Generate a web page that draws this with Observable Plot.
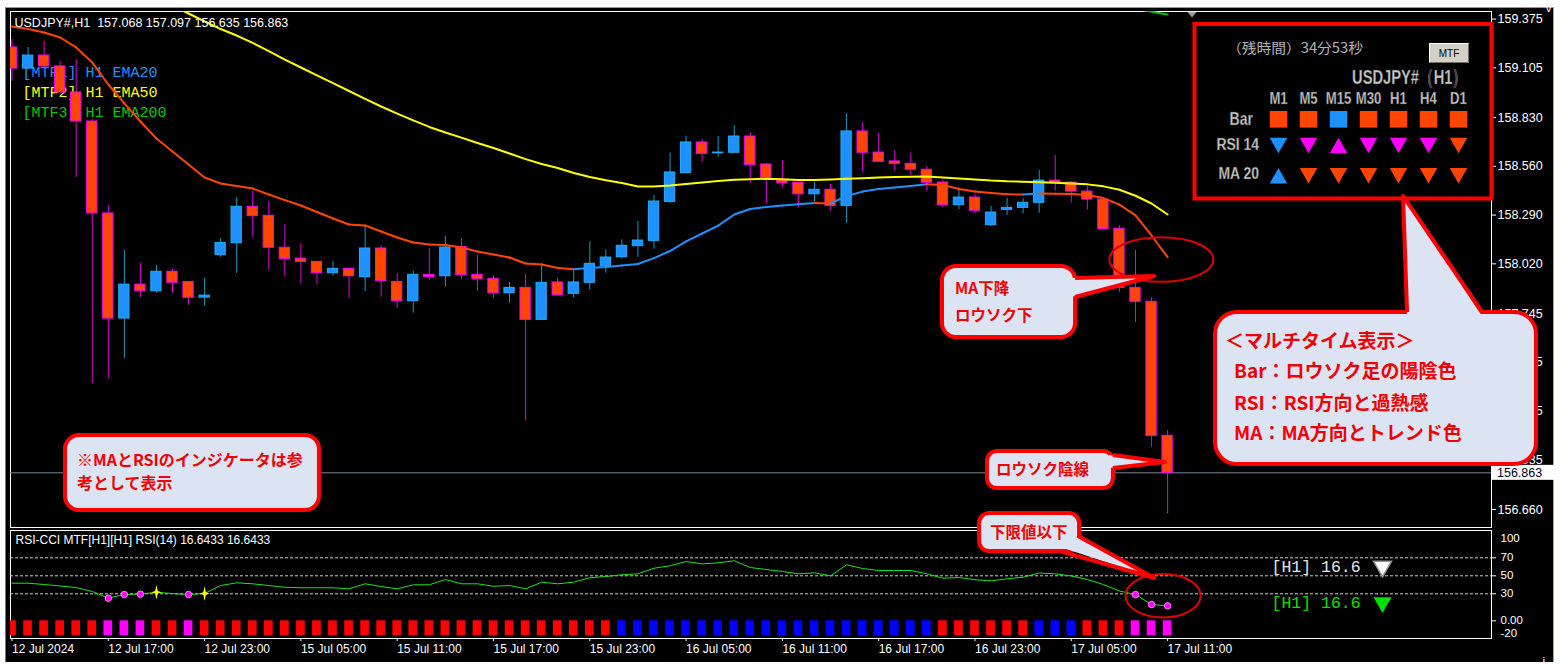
<!DOCTYPE html>
<html><head><meta charset="utf-8">
<script src="https://cdn.jsdelivr.net/npm/d3@7"></script>
<script src="https://cdn.jsdelivr.net/npm/@observablehq/plot@0.6"></script>
<style>
html,body{margin:0;padding:0;background:#fff;}
#wrap{position:relative;width:1563px;height:668px;overflow:hidden;background:#fff;}
#bg{position:absolute;left:5px;top:7px;width:1549px;height:655px;background:#000;border-left:1px solid #4f7fbf;border-right:1px solid #7fb0e0;border-top:1px solid #9a9a9a;box-sizing:border-box;}
#wrap > svg{position:absolute;left:0;top:0;overflow:visible;}
#wrap svg text{white-space:pre;}
</style></head><body><div id="wrap"><div id="bg"></div></div>
<script>
// ---------------- DATA ----------------
const symbol = "USDJPY#", timeframe = "H1";
const opens = [159.218,159.101,159.173,159.113,158.969,158.808,158.299,157.717,157.905,157.868,
157.976,157.920,157.833,158.068,158.134,158.336,158.286,158.109,158.049,158.031,
157.968,157.992,157.946,158.105,157.920,157.813,157.959,157.951,158.114,157.959,
157.937,157.857,157.887,157.710,157.917,157.854,157.915,158.007,158.057,158.118,
158.147,158.363,158.522,158.692,158.632,158.635,158.725,158.570,158.485,158.469,
158.405,158.430,158.341,158.753,158.636,158.587,158.574,158.541,158.470,158.345,
158.387,158.234,158.319,158.330,158.358,158.481,158.470,158.420,158.376,158.214,
157.887,157.810,157.068];
const highs = [159.262,159.218,159.251,159.140,159.151,158.819,158.343,158.094,158.022,158.011,
157.989,157.922,157.939,158.160,158.387,158.420,158.365,158.238,158.131,158.031,
158.033,157.992,158.227,158.121,157.965,157.978,158.105,158.171,158.160,158.066,
157.951,157.917,157.961,158.020,157.940,157.983,158.142,158.098,158.153,158.254,
158.398,158.633,158.727,158.708,158.725,158.786,158.745,158.577,158.592,158.469,
158.472,158.459,158.851,158.801,158.743,158.647,158.633,158.559,158.485,158.441,
158.402,158.337,158.383,158.380,158.537,158.620,158.474,158.448,158.376,158.231,
158.094,157.832,157.097];
const lows = [159.030,159.096,159.107,158.963,158.498,157.357,157.385,157.496,157.834,157.857,
157.857,157.791,157.785,158.057,157.968,158.167,157.987,157.946,157.907,157.907,
157.951,157.830,157.867,157.835,157.774,157.747,157.928,157.891,157.933,157.868,
157.830,157.802,157.152,157.710,157.846,157.832,157.876,157.968,158.046,158.057,
158.101,158.352,158.522,158.583,158.610,158.635,158.463,158.352,158.441,158.330,
158.361,158.315,158.245,158.524,158.585,158.533,158.509,158.422,158.330,158.319,
158.297,158.227,158.288,158.297,158.300,158.422,158.356,158.319,158.212,157.863,
157.697,157.005,156.635];
const closes = [159.101,159.173,159.113,158.969,158.808,158.299,157.717,157.905,157.868,157.976,
157.915,157.832,157.844,158.136,158.336,158.284,158.109,158.046,158.031,157.968,
157.992,157.951,158.105,157.924,157.813,157.959,157.946,158.110,157.957,157.935,
157.857,157.887,157.710,157.915,157.846,157.917,158.020,158.055,158.120,158.149,
158.365,158.526,158.692,158.629,158.636,158.725,158.568,158.496,158.466,158.405,
158.430,158.341,158.753,158.635,158.585,158.574,158.541,158.469,158.345,158.387,
158.314,158.304,158.330,158.358,158.481,158.470,158.420,158.376,158.212,157.887,
157.810,157.068,156.863];
const ema20 = [159.334,159.320,159.301,159.273,159.218,159.135,159.013,158.908,158.808,158.714,
158.642,158.570,158.498,158.465,158.451,158.437,158.404,158.373,158.343,158.307,
158.271,158.238,158.232,158.199,158.166,158.138,158.127,158.124,158.110,158.088,
158.072,158.055,158.022,158.016,157.997,157.990,157.997,158.002,158.011,158.019,
158.052,158.091,158.144,158.188,158.232,158.293,158.324,158.335,158.343,158.350,
158.357,158.354,158.396,158.420,158.435,158.443,158.451,158.461,158.456,158.434,
158.420,158.412,158.405,158.404,158.409,158.408,158.407,158.401,158.384,158.348,
158.288,158.177,158.057];
const ema50 = [null,null,null,null,null,null,null,null,null,null,
159.450,159.406,159.362,159.320,159.284,159.243,159.198,159.151,159.107,159.063,
159.021,158.977,158.933,158.891,158.852,158.814,158.778,158.747,158.719,158.689,
158.661,158.631,158.600,158.573,158.551,158.523,158.501,158.483,158.468,158.448,
158.448,158.454,158.462,158.470,158.479,158.485,158.488,158.491,158.488,158.484,
158.484,158.487,158.491,158.494,158.498,158.501,158.502,158.503,158.498,158.492,
158.487,158.481,158.477,158.475,158.472,158.469,158.465,158.460,158.449,158.430,
158.397,158.354,158.293];
const ema200Tail = [159.432,159.416,159.401]; // last three bars (rest is above the chart)
const rsi14 = [41.8,41.8,40.3,38.7,37.0,32.6,25.1,29.2,29.6,31.8,
30.2,29.2,30.4,39.2,42.2,41.1,39.2,37.3,36.7,36.7,
36.7,35.6,41.1,38.1,35.6,40.0,40.0,45.9,41.1,41.1,
38.4,39.2,35.6,42.9,41.1,42.9,47.8,49.2,51.1,52.2,
58.4,61.1,65.9,63.3,64.4,66.7,59.2,57.0,54.8,52.2,
53.3,50.0,62.2,58.1,55.9,55.9,55.9,52.2,47.3,48.1,
45.6,44.4,46.7,48.4,53.1,52.2,49.8,45.9,40.3,33.1,
29.2,18.1,16.6433];
const rsiZone = ["dn","dn","dn","dn","dn","dn","os","os","os","dn",
"dn","os","dn","dn","dn","dn","dn","dn","dn","dn",
"dn","dn","dn","dn","dn","dn","dn","dn","dn","dn",
"dn","dn","dn","dn","dn","dn","dn","dn","up","up",
"up","up","up","up","up","up","up","up","up","up",
"up","up","up","up","up","up","up","up","dn","dn",
"dn","dn","dn","dn","up","up","up","dn","dn","dn",
"os","os","os"];
const rsiPeriod = 14;
const priceTicks = [159.375,159.105,158.830,158.560,158.290,158.020,157.745,157.475,157.205,156.935,156.660];
const xTickBars = [0,6,12,18,24,30,36,42,48,54,60,66,72];
const xTickLabels = ["12 Jul 2024","12 Jul 17:00","12 Jul 23:00","15 Jul 05:00","15 Jul 11:00","15 Jul 17:00","15 Jul 23:00","16 Jul 05:00","16 Jul 11:00","16 Jul 17:00","16 Jul 23:00","17 Jul 05:00","17 Jul 11:00"];
const rsiLevels = [70,50,30];
const rsiAxisTicks = [70,50,30,0];
const rsiScaleEnds = [100,-20];
const maLegend = ["[MTF1] H1 EMA20","[MTF2] H1 EMA50","[MTF3] H1 EMA200"];
const mtfFrames = ["M1","M5","M15","M30","H1","H4","D1"];
const mtfBar = ["bear","bear","bull","bear","bear","bear","bear"];
const mtfRsiDir = ["down","down","up","down","down","down","down"];
const mtfRsiZone = ["bull","os","os","os","os","os","bear"];
const mtfMaDir = ["up","down","down","down","down","down","down"];
const mtfRowLabels = ["Bar","RSI 14","MA 20"];
const remainTime = "34分53秒";

// ---------------- STYLE ----------------
const COL = {bull:"#1E90FF", bullEdge:"#20B0F8", bullWick:"#1a98c4", bear:"#FF4500", bearEdge:"#FF00FF", bearWick:"#E000E0",
  emaUp:"#1E90FF", emaDn:"#FF4500", ema50:"#FFFF00", ema200:"#00C000", magenta:"#FF00FF", red:"#FF0000", blue:"#0000FF"};
const legendColors = ["#1E90FF","#FFFF00","#00C800"];
const CJK = "'Noto Sans CJK JP', sans-serif";
const SANS = "'Liberation Sans', Arial, sans-serif";
const MONO = "'Liberation Mono', 'DejaVu Sans Mono', monospace";
const FILL = "#dce3f3", RED = "#ff0000";
const W = 1563, H = 668;

// ---------------- DERIVED ----------------
const N = opens.length;
const bars = d3.range(N);
const candles = bars.map(i => ({i, open:opens[i], high:highs[i], low:lows[i], close:closes[i]}));
const last = candles[N-1];
const ema20Segs = bars.slice(1).map(i => ({a:i-1, b:i, va:ema20[i-1], vb:ema20[i], up: ema20[i] > ema20[i-1]}));
const ema50Pts = bars.map(i => ({i, v: ema50[i]}));
const ema200Pts = ema200Tail.map((v,k) => ({i: N - ema200Tail.length + k, v}));
const rsiPts = bars.map(i => ({i, v: rsi14[i], zone: rsiZone[i], star: i > 0 && rsiZone[i] !== "os" && rsiZone[i-1] === "os"}));
const zoneColor = {dn: COL.red, os: COL.magenta, up: COL.blue};
const f3 = d3.format(".3f");
const rsiLast = rsi14[N-1];

const X = {type:"linear", domain:[0, N-1], range:[11.5, 1167.1], axis:null};

// ---------------- CUSTOM MARK HELPERS ----------------
function calloutMark(c) {
  return (index, scales) => {
    const sx = scales.x, sy = scales.y;
    const g = d3.create("svg:g");
    let L = sx(c.box[0]), R = sx(c.box[1]), T = sy(c.box[2]), B = sy(c.box[3]);
    [L, R] = [Math.min(L,R), Math.max(L,R)]; [T, B] = [Math.min(T,B), Math.max(T,B)];
    g.append("rect").attr("x", L+2).attr("y", T+2).attr("width", R-L-4).attr("height", B-T-4)
      .attr("rx", c.r).attr("ry", c.r).attr("fill", FILL).attr("stroke", RED).attr("stroke-width", 4);
    if (c.tip) {
      const tip = [sx(c.tip[0]), sy(c.tip[1])];
      const inward = ([px,py], d) => {
        if (Math.abs(px-L) < 3) return [L+d, py];
        if (Math.abs(px-R) < 3) return [R-d, py];
        if (Math.abs(py-T) < 3) return [px, T+d];
        return [px, B-d];
      };
      const bases = c.base.map(([a,b]) => [sx(a), sy(b)]);
      const fp = [inward(bases[0], 6), tip, inward(bases[1], 6)];
      const lp = [inward(bases[0], 2), tip, inward(bases[1], 2)];
      g.append("path").attr("d", "M" + fp.join("L") + "Z").attr("fill", FILL);
      g.append("path").attr("d", "M" + lp.join("L")).attr("fill", "none").attr("stroke", RED)
        .attr("stroke-width", 4).attr("stroke-linejoin", "round");
    }
    c.lines.forEach((t, k) => {
      g.append("text").attr("x", L + c.textX[k]).attr("y", T + c.textY[k]).attr("dy", "0.36em")
        .attr("text-anchor", "start")
        .attr("fill", "#f00000").attr("font-family", CJK).attr("font-weight", 700)
        .attr("font-size", c.size).text(t);
    });
    return g.node();
  };
}
function ellipseMark(e) {
  return (index, scales) => {
    const cx = scales.x(e.cx), cy = scales.y(e.cy);
    const rx = Math.abs(scales.x(e.cx + e.rx) - cx), ry = Math.abs(scales.y(e.cy + e.ry) - cy);
    return d3.create("svg:ellipse").attr("cx", cx).attr("cy", cy).attr("rx", rx).attr("ry", ry)
      .attr("fill", "none").attr("stroke", "#e00000").attr("stroke-width", 2).node();
  };
}
function priceBox(index, scales, values, dims) {
  const y = scales.y(last.close), x0 = dims.width - dims.marginRight;
  const g = d3.create("svg:g");
  g.append("rect").attr("x", x0+1).attr("y", y-7.5).attr("width", 62).attr("height", 15).attr("fill", "#fff");
  g.append("text").attr("x", x0+6).attr("y", y).attr("dy", "0.35em").attr("text-anchor", "start").attr("fill", "#000020")
    .attr("font-family", SANS).attr("font-size", 12.5).text(f3(last.close));
  return g.node();
}
function shiftMarker(index, scales, values, dims) {
  const R = dims.width - dims.marginRight, T = dims.marginTop;
  const x = R - 299, y = T + 1;
  return d3.create("svg:path").attr("d", `M${x-4.5},${y}L${x+4.5},${y}L${x},${y+5.5}Z`).attr("fill", "#9a9a9a").node();
}
function condText(g, x, y, txt, size, anchor, sxf = 0.82) {
  g.append("text").attr("transform", `translate(${x},${y}) scale(${sxf},1)`).attr("dy", "0.36em")
    .attr("text-anchor", anchor).attr("fill", "#c8c8c8").attr("stroke", "#3a3a3a").attr("stroke-width", 0.4)
    .attr("font-family", SANS).attr("font-weight", 700).attr("font-size", size).text(txt);
}
function tri(g, cx, cy, dir, color) {
  const w = 8.75, h = 7.7;
  const d = dir === "up" ? `M${cx-w},${cy+h}L${cx+w},${cy+h}L${cx},${cy-h}Z` : `M${cx-w},${cy-h}L${cx+w},${cy-h}L${cx},${cy+h}Z`;
  g.append("path").attr("d", d).attr("fill", color);
}
function mtfPanel(index, scales, values, dims) {
  const R = dims.width - dims.marginRight, T = dims.marginTop;
  const g = d3.create("svg:g");
  g.append("rect").attr("x", R-296.5).attr("y", T+13).attr("width", 297).attr("height", 174.5)
    .attr("fill", "#000").attr("stroke", "#ff0000").attr("stroke-width", 4);
  g.append("text").attr("x", R-264).attr("y", T+37).attr("dy", "0.36em").attr("text-anchor", "start").attr("fill", "#b4b4b4")
    .attr("font-family", CJK).attr("font-size", 14).attr("textLength", 136).attr("lengthAdjust", "spacingAndGlyphs")
    .text(`（残時間）${remainTime}`);
  const bx = R-62, by = T+32;
  g.append("rect").attr("x", bx).attr("y", by).attr("width", 40).attr("height", 20).attr("fill", "#d4d0c8");
  g.append("path").attr("d", `M${bx+0.5},${by+19.5}V${by+0.5}H${bx+39.5}`).attr("stroke", "#fff").attr("fill", "none");
  g.append("path").attr("d", `M${bx+0.5},${by+19.5}H${bx+39.5}V${by+0.5}`).attr("stroke", "#707070").attr("fill", "none");
  g.append("text").attr("x", bx+20).attr("y", by+10).attr("dy", "0.36em").attr("text-anchor", "middle")
    .attr("fill", "#000").attr("font-family", SANS).attr("font-size", 10).text("MTF");
  condText(g, R-24, T+65, `${symbol}（${timeframe}）`, 21, "end", 0.7);
  const cx = k => R - 212.5 + 30*k;
  const colorBar = s => s === "bull" ? COL.bull : COL.bear;
  const colorRsi = z => z === "bull" ? COL.bull : z === "os" ? COL.magenta : COL.bear;
  const colorMa = d => d === "up" ? COL.bull : COL.bear;
  mtfFrames.forEach((tf, k) => {
    condText(g, cx(k), T+87, tf, 16, "middle");
    g.append("rect").attr("x", cx(k)-8.75).attr("y", T+108.3-8.3).attr("width", 17.5).attr("height", 16.6).attr("fill", colorBar(mtfBar[k]));
    tri(g, cx(k), T+134.5, mtfRsiDir[k], colorRsi(mtfRsiZone[k]));
    tri(g, cx(k), T+164.7, mtfMaDir[k], colorMa(mtfMaDir[k]));
  });
  condText(g, R-238, T+107.3, mtfRowLabels[0], 18, "end", 0.78);
  condText(g, R-232, T+133, mtfRowLabels[1], 17, "end");
  condText(g, R-232, T+162.3, mtfRowLabels[2], 17, "end");
  return g.node();
}
const sparkle = {draw(ctx) { const rx = 5, ry = 7.5, s = 1.3;
  ctx.moveTo(0,-ry); ctx.lineTo(s,-s); ctx.lineTo(rx,0); ctx.lineTo(s,s); ctx.lineTo(0,ry); ctx.lineTo(-s,s); ctx.lineTo(-rx,0); ctx.lineTo(-s,-s); ctx.closePath(); }};

// ---------------- ANNOTATIONS (data coordinates) ----------------
const mainCallouts = [
  {box:[57.85,66.39,158.016,157.601], base:[[66.39,157.939],[66.39,157.834]], tip:[71.2,157.950], r:14, size:15.5,
   lines:["MA下降","ロウソク下"], textX:[15,15], textY:[24.3,51]},
  {box:[60.65,68.75,156.992,156.765], base:[[68.75,156.959],[68.75,156.887]], tip:[71.87,156.920], r:10, size:15.5,
   lines:["ロウソク陰線"], textX:[11], textY:[20.5]},
  {box:[74.86,95.11,157.762,156.898], base:[[86.95,157.762],[91.62,157.762]], tip:[86.7,158.393], r:22, size:19,
   lines:["＜マルチタイム表示＞","Bar：ロウソク足の陽陰色","RSI：RSI方向と過熱感","MA：MA方向とトレンド色"], textX:[12,21,21,21], textY:[31.7,61.7,93,123.3]},
  {box:[3.21,19.28,157.0805,156.643], r:14, size:16,
   lines:["※MAとRSIのインジケータは参","考として表示"], textX:[14,14], textY:[27,50.3]}
];
const rsiCallout = {box:[60.16,66.64,121.4,74.8], base:[[66.64,93.0],[65.33,74.8]], tip:[71.2,47.0], r:10, size:15.5,
   lines:["下限値以下"], textX:[13], textY:[21.6]};

const baseStyle = {background:"transparent", color:"#fff", fontFamily:SANS, fontSize:"12.5px", overflow:"visible"};

// ---------------- MAIN PRICE PANEL ----------------
const mainPlot = Plot.plot({
  width: W, height: H, marginLeft: 10, marginRight: 72, marginTop: 11, marginBottom: 141,
  style: baseStyle,
  x: X,
  y: {type:"linear", domain:[156.660, 159.375], range:[509.0, 18.6], axis:null},
  marks: [
    Plot.frame({stroke:"#fff"}),
    ...maLegend.map((t, k) => Plot.text([t], {frameAnchor:"top-left", dx:12, dy:60.7 + 20*k, lineAnchor:"middle", textAnchor:"start",
      fill: legendColors[k], fontFamily: MONO, fontSize: 15})),
    Plot.ruleY([last.close], {stroke:"#7b8796"}),
    Plot.ruleX(candles, {x:"i", y1:"low", y2:"high", stroke: d => d.close >= d.open ? COL.bullWick : COL.bearWick, clip:true}),
    Plot.rect(candles, {x1: d => d.i - 0.32, x2: d => d.i + 0.32, y1:"open", y2:"close",
      fill: d => d.close >= d.open ? COL.bull : COL.bear, stroke: d => d.close >= d.open ? COL.bullEdge : COL.bearEdge, clip:true}),
    Plot.line(ema200Pts, {x:"i", y:"v", stroke: COL.ema200, strokeWidth:2, clip:true}),
    Plot.line(ema50Pts, {x:"i", y:"v", stroke: COL.ema50, strokeWidth:2, clip:true}),
    Plot.link(ema20Segs, {x1:"a", x2:"b", y1:"va", y2:"vb", stroke: d => d.up ? COL.emaUp : COL.emaDn, strokeWidth:2, strokeLinecap:"round", clip:true}),
    Plot.text([`${symbol},${timeframe}  ${f3(last.open)} ${f3(last.high)} ${f3(last.low)} ${f3(last.close)}`],
      {frameAnchor:"top-left", dx:4, dy:11, lineAnchor:"middle", textAnchor:"start", fill:"#fff", fontSize:12.5}),
    Plot.axisY({anchor:"right", ticks: priceTicks, tickFormat: f3, tickSize:4, tickPadding:2}),
    priceBox,
    shiftMarker,
    mtfPanel,
    ellipseMark({cx:71.64, cy:158.041, rx:3.24, ry:0.1235}),
    ...mainCallouts.map(calloutMark)
  ]
});

// ---------------- RSI PANEL ----------------
const rsiPlot = Plot.plot({
  width: W, height: H, marginLeft: 10, marginRight: 72, marginTop: 530, marginBottom: 30,
  style: baseStyle,
  x: X,
  y: {type:"linear", domain:[0, 70], range:[620.3, 557.3], axis:null},
  marks: [
    Plot.frame({stroke:"#fff"}),
    Plot.ruleY(rsiLevels, {stroke:"#cfcfcf", strokeDasharray:"3,2"}),
    Plot.rect(rsiPts, {x1: d => d.i - 0.27, x2: d => d.i + 0.27, y1: 0, y2: -16.5, fill: d => zoneColor[d.zone], clip:true}),
    Plot.line(rsiPts, {x:"i", y:"v", stroke:"#1ee41e", strokeWidth:1, clip:true}),
    Plot.dot(rsiPts.filter(d => d.zone === "os"), {x:"i", y:"v", r:3.2, fill:COL.magenta, stroke:"#ff80ff", strokeWidth:1}),
    Plot.dot(rsiPts.filter(d => d.star), {x:"i", y:"v", r:5, symbol: sparkle, fill:"#ffff00", stroke:"none"}),
    Plot.text([`RSI-CCI MTF[${timeframe}][${timeframe}] RSI(${rsiPeriod}) ${d3.format(".4f")(rsiLast)} ${d3.format(".4f")(rsiLast)}`],
      {frameAnchor:"top-left", dx:5, dy:10, lineAnchor:"middle", textAnchor:"start", fill:"#fff", fontSize:12}),
    Plot.axisY({anchor:"right", ticks: rsiAxisTicks, tickFormat: d => d === 0 ? "0.00" : String(d), tickSize:4, tickPadding:5, fontSize:11.5}),
    Plot.text([String(rsiScaleEnds[0])], {frameAnchor:"top-right", dx:9, dy:8, lineAnchor:"middle", textAnchor:"start", fill:"#fff", fontSize:11.5}),
    Plot.text([String(rsiScaleEnds[1])], {frameAnchor:"bottom-right", dx:9, dy:-5, lineAnchor:"middle", textAnchor:"start", fill:"#fff", fontSize:11.5}),
    Plot.axisX({anchor:"bottom", ticks: xTickBars, tickFormat: d => xTickLabels[xTickBars.indexOf(d)], tickSize:3, tickPadding:3, textAnchor:"start", fontSize:12}),
    Plot.text([`[${timeframe}] ${d3.format(".1f")(rsiLast)}`], {frameAnchor:"top-right", dx:-220, dy:36, lineAnchor:"middle", textAnchor:"start", fill:"#e6e6e6", fontFamily:MONO, fontSize:16.5}),
    Plot.text([`[${timeframe}] ${d3.format(".1f")(rsiLast)}`], {frameAnchor:"top-right", dx:-220, dy:72, lineAnchor:"middle", textAnchor:"start", fill:"#00e000", fontFamily:MONO, fontSize:16.5}),
    Plot.dot([0], {frameAnchor:"top-right", dx:-109, dy:36, symbol:"triangle", rotate:180, r:6.7, fill:"#ffffff", stroke:"#909090"}),
    Plot.dot([0], {frameAnchor:"top-right", dx:-109, dy:72, symbol:"triangle", rotate:180, r:6.7, fill:"#00e000", stroke:"none"}),
    ellipseMark({cx:71.75, cy:27.3, rx:2.34, ry:24.1}),
    calloutMark(rsiCallout)
  ]
});

const wrap = document.getElementById("wrap");
wrap.appendChild(mainPlot);
wrap.appendChild(rsiPlot);
</script></body></html>
